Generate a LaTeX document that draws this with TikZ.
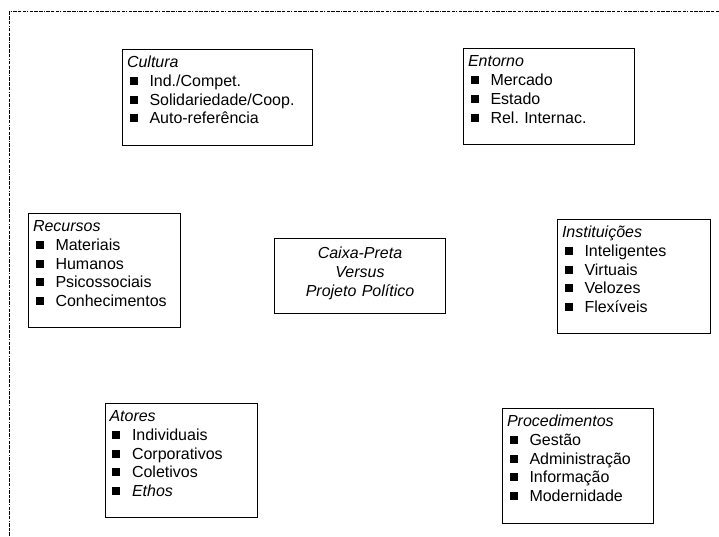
\documentclass[tikz,border=0pt]{standalone}
\usepackage{fontspec}
\setmainfont{Liberation Sans}
\frenchspacing
\tikzset{
  quadro/.style={draw, line width=1pt, anchor=north west, align=left,
    inner xsep=4.5pt, inner ysep=0pt, text height=18pt,
    font=\fontsize{16}{18.8}\selectfont},
  moldura/.style={line width=1.9pt,
    dash pattern=on 3.5pt off 1.2pt on 3.5pt off 1.2pt on 3.5pt off 1.2pt on 1.2pt off 1.2pt}
}
\newcommand{\marcador}{\hspace*{2.5pt}\rule[1.5pt]{8pt}{8pt}\hspace*{12pt}}

\begin{document}
\begin{tikzpicture}[x=1pt,y=-1pt]
    \useasboundingbox (0,0) rectangle (719,537);
    \coordinate (cantoA) at (719,11.5);
    \coordinate (cantoB) at (9.5,11.5);
    \coordinate (cantoC) at (9.5,537);
    \draw[moldura] (cantoA) -- (cantoB) -- (cantoC);
    \node[quadro, text width=181pt, text depth=78pt] (cultura) at (122,49)
      {\textit{Cultura}\\ \marcador Ind./Compet.\\ \marcador Solidariedade/Coop.\\ \marcador Auto-referência};
    \node[quadro, text width=162pt, text depth=78pt] (entorno) at (463,48.5)
      {\textit{Entorno}\\ \marcador Mercado\\ \marcador Estado\\ \marcador Rel. Internac.};
    \node[quadro, text width=143pt, text depth=96pt] (recursos) at (28,213)
      {\textit{Recursos}\\ \marcador Materiais\\ \marcador Humanos\\ \marcador Psicossociais\\ \marcador Conhecimentos};
    \node[quadro, align=center, text width=162pt, text height=20pt, text depth=55pt] (centro) at (274,238)
      {\textit{Caixa-Preta}\\ \textit{Versus}\\ \textit{Projeto Político}};
    \node[quadro, text width=144pt, text depth=96pt] (instituicoes) at (557,219)
      {\textit{Instituições}\\ \marcador Inteligentes\\ \marcador Virtuais\\ \marcador Velozes\\ \marcador Flexíveis};
    \node[quadro, text width=143pt, text depth=96pt] (atores) at (104.5,403)
      {\textit{Atores}\\ \marcador Individuais\\ \marcador Corporativos\\ \marcador Coletivos\\ \marcador \textit{Ethos}};
    \node[quadro, text width=142pt, text depth=97pt] (procedimentos) at (502,408)
      {\textit{Procedimentos}\\ \marcador Gestão\\ \marcador Administração\\ \marcador Informação\\ \marcador Modernidade};
\end{tikzpicture}
\end{document}
